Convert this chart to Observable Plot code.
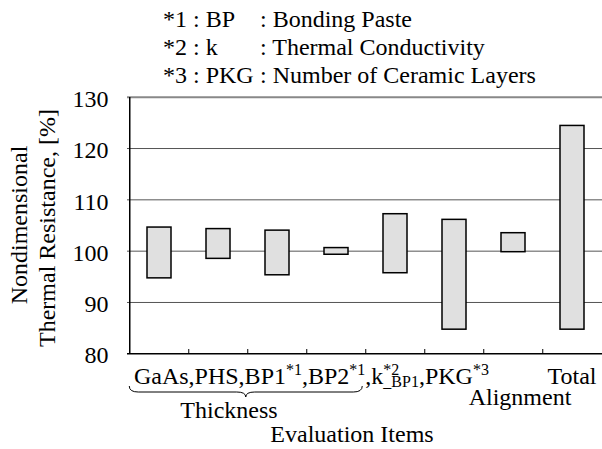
<!DOCTYPE html>
<html>
<head>
<meta charset="utf-8">
<script src="https://cdn.jsdelivr.net/npm/d3@7"></script>
<script src="https://cdn.jsdelivr.net/npm/@observablehq/plot@0.6"></script>
<style>
  html, body { margin: 0; padding: 0; background: #fff; }
  svg { display: block; }
</style>
</head>
<body>
<div id="chart"></div>
<script>
// ---- data ----
const categories = ["GaAs", "PHS", "BP1", "BP2", "k_BP1", "PKG", "Alignment", "Total"];
const lowValues  = [94.7, 98.5, 95.3, 99.3, 95.7, 84.7, 99.8, 84.7];
const highValues = [104.6, 104.3, 104.0, 100.6, 107.2, 106.1, 103.5, 124.4];
const yTicks = [80, 90, 100, 110, 120, 130];

const legendKeys  = ["*1 : BP", "*2 : k", "*3 : PKG"];
const legendDescs = [": Bonding Paste", ": Thermal Conductivity", ": Number of Ceramic Layers"];
const yTitleLines = ["Nondimensional", "Thermal Resistance, [%]"];
const compositeParts = [
  ["GaAs,PHS,BP1", "main"], ["*1", "sup"], [",BP2", "main"], ["*1", "sup"],
  [",k", "main"], ["*2", "sup"], ["_BP1", "sub"], [",PKG", "main"], ["*3", "sup"]
];
const totalLabel = "Total";
const alignmentLabel = "Alignment";
const groupLabel = "Thickness";
const xTitle = "Evaluation Items";

const data = categories.map((c, i) => ({cat: c, low: lowValues[i], high: highValues[i]}));
const FONT = '"Liberation Serif", "Times New Roman", Times, serif';
const step = 59.5;

const plot = Plot.plot({
  width: 602,
  height: 449,
  marginTop: 97,
  marginBottom: 96,
  marginLeft: 127,
  marginRight: 0,
  style: {fontFamily: FONT, fontSize: "24px", color: "#000", background: "#fff", overflow: "visible"},
  x: {domain: categories, range: [127.3, 603.3], paddingInner: 0.6, paddingOuter: 0.3, axis: null},
  y: {domain: [80, 130], range: [353.3, 96.7]},
  marks: [
    Plot.ruleY(yTicks.slice(1, -1), {stroke: "#555", strokeWidth: 1}),
    Plot.ruleY([130], {stroke: "#888", strokeWidth: 2}),
    Plot.barY(data, {x: "cat", y1: "low", y2: "high", fill: "#e0e0e0", stroke: "#000", strokeWidth: 1.5}),
    Plot.ruleY([80], {stroke: "#000", strokeWidth: 1.5}),
    Plot.ruleX(categories.slice(0, 1), {dx: -step / 2, stroke: "#000", strokeWidth: 1.5}),
    Plot.ruleX(categories.slice(1), {dx: -step / 2, insetTop: 252, stroke: "#000", strokeWidth: 1}),
    Plot.axisY({ticks: yTicks, tickSize: 0, tickPadding: 19, fontSize: 24, dy: 2, label: null})
  ]
});

document.getElementById("chart").appendChild(plot);

const svg = d3.select(plot);
const sx = plot.scale("x");
const center = c => sx.apply(c) + sx.bandwidth / 2;
const cellStart = c => center(c) - step / 2;

function addText(x, y, str, anchor = "start", transform = null) {
  const t = svg.append("text")
    .attr("x", x).attr("y", y)
    .attr("fill", "#000")
    .attr("font-family", FONT)
    .attr("font-size", 24)
    .attr("text-anchor", anchor)
    .text(str);
  if (transform) t.attr("transform", transform).attr("x", 0).attr("y", 0);
  return t;
}

// footnotes at top
legendKeys.forEach((k, i) => {
  addText(163, 27 + 28 * i, k);
  addText(260, 27 + 28 * i, legendDescs[i]);
});

// y-axis title (two lines, rotated)
addText(0, 0, yTitleLines[0], "middle", "translate(27,225) rotate(-90)");
addText(0, 0, yTitleLines[1], "middle", "translate(55,228) rotate(-90)");

// composite x label
const comp = svg.append("text")
  .attr("x", cellStart(categories[0]) + 4.7)
  .attr("y", 384)
  .attr("fill", "#000")
  .attr("font-family", FONT)
  .attr("font-size", 24)
  .attr("text-anchor", "start");
let level = 0;
compositeParts.forEach(([t, kind]) => {
  const ts = comp.append("tspan").text(t);
  let target = 0;
  if (kind === "sup") { target = -9; ts.attr("font-size", 16); }
  else if (kind === "sub") { target = 3; ts.attr("font-size", 16).attr("dx", -16); }
  ts.attr("dy", target - level);
  level = target;
});

// Total and Alignment labels
addText(center(totalLabel), 384, totalLabel, "middle");
addText(center(alignmentLabel) + 7, 405, alignmentLabel, "middle");

// brace under the Thickness items
const x0 = cellStart(categories[0]);
const x1 = cellStart(categories[4]) - 3;
const xm = (x0 + x1) / 2;
const yTop = 386, yMid = 392, yTip = 397;
svg.append("path")
  .attr("d", `M${x0},${yTop} Q${x0},${yMid} ${x0 + 9},${yMid} L${xm - 9},${yMid} Q${xm},${yMid} ${xm},${yTip} Q${xm},${yMid} ${xm + 9},${yMid} L${x1 - 9},${yMid} Q${x1},${yMid} ${x1},${yTop}`)
  .attr("fill", "none")
  .attr("stroke", "#000")
  .attr("stroke-width", 1);

addText(229, 418, groupLabel, "middle");
addText(352, 442, xTitle, "middle");
</script>
</body>
</html>
